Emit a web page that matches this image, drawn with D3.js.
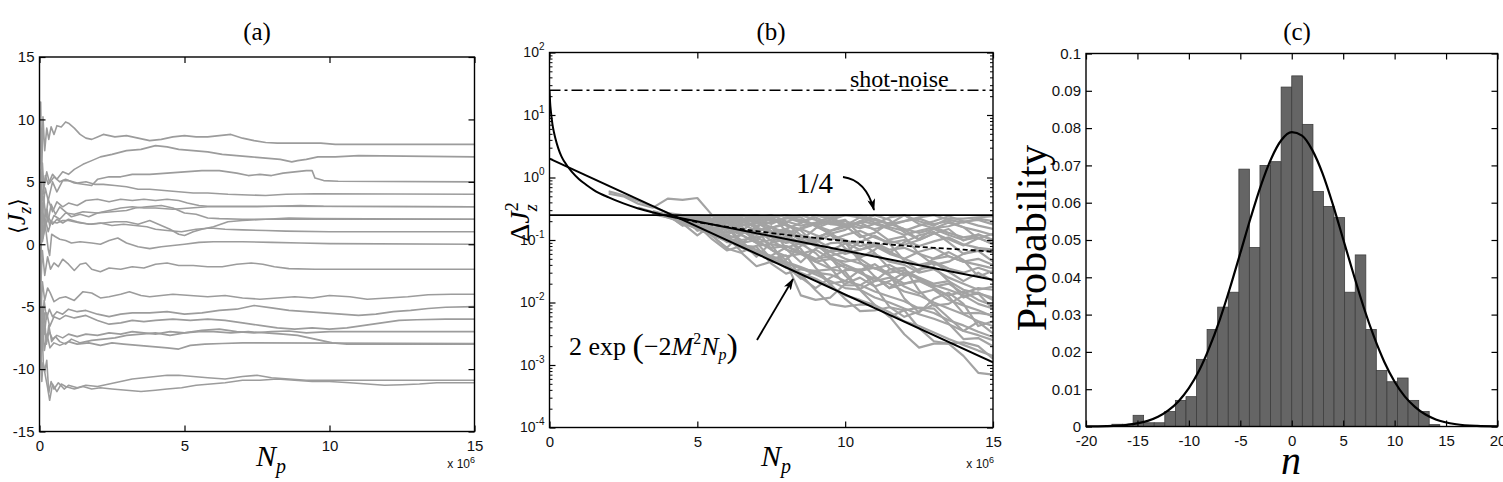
<!DOCTYPE html>
<html>
<head>
<meta charset="utf-8">
<title>Figure</title>
<script src="https://d3js.org/d3.v7.min.js"></script>
<style>
  body { margin: 0; background: #fff; }
  text { font-family: "Liberation Sans", Arial, sans-serif; }
  .serif { font-family: "Liberation Serif", "DejaVu Serif", serif; }
</style>
</head>
<body>
<div id="chart"></div>
<script>
// ---------- panel (a): <Jz> trajectories, Np in units of 1e6 ----------
const aTrajectories = [
  [[0,1],[0.04,11.4],[0.08,6],[0.12,10.2],[0.18,7.5],[0.25,9.3],[0.32,8.4],[0.4,9.4],[0.5,8.8],[0.6,9.5],[0.75,9.4],[0.9,9.8],[1.0,9.7],[1.2,9.3],[1.4,8.8],[1.6,8.5],[1.8,8.4],[2.0,8.6],[2.2,8.8],[2.6,8.6],[3.0,8.7],[3.4,8.5],[3.8,8.3],[4.2,8.4],[4.6,8.6],[5.0,8.7],[5.4,8.6],[5.8,8.6],[6.2,8.7],[6.6,8.8],[7.0,8.5],[7.4,8.3],[7.8,8.15],[8.2,8.1],[9.0,8.1],[9.7,8.1],[10.2,8.0],[15,8.0]],
  [[0,2],[0.05,6],[0.1,3.5],[0.2,5.5],[0.3,4.8],[0.45,5.6],[0.6,5.2],[0.8,5.8],[1.0,5.6],[1.2,6.0],[1.5,6.4],[1.8,6.7],[2.1,7.0],[2.5,7.2],[3.0,7.5],[3.5,7.6],[4.0,7.9],[4.4,7.8],[4.8,7.6],[5.3,7.5],[5.8,7.4],[6.3,7.2],[6.8,7.1],[7.3,7.0],[7.8,6.9],[8.3,6.8],[8.7,6.6],[8.9,6.7],[9.2,6.8],[9.6,7.0],[10.2,7.0],[11,7.1],[15,7.0]],
  [[0,-1],[0.05,3],[0.1,6.5],[0.15,4.5],[0.25,5.8],[0.35,4.9],[0.5,5.4],[0.7,5.0],[0.9,5.2],[1.2,4.9],[1.5,4.8],[1.8,4.7],[2.0,5.2],[2.4,5.4],[2.8,5.4],[3.2,5.6],[3.8,5.6],[4.4,5.7],[5.0,5.8],[5.6,5.9],[6.2,5.9],[6.8,5.7],[7.2,5.5],[7.6,5.6],[8.0,5.5],[8.4,5.7],[8.8,5.8],[9.2,5.9],[9.4,5.9],[9.5,5.3],[9.8,5.1],[10.3,5.05],[15,5.0]],
  [[0,0.5],[0.05,5.5],[0.1,2.5],[0.2,4.5],[0.3,3.5],[0.45,5.0],[0.6,4.2],[0.8,5.1],[1.0,5.1],[1.3,4.9],[1.6,5.0],[1.9,4.8],[2.2,4.8],[2.6,4.7],[3.0,4.6],[3.4,4.4],[3.8,4.4],[4.3,4.3],[4.8,4.2],[5.3,4.1],[5.8,4.1],[6.5,4.0],[7.2,3.95],[7.8,3.9],[8.5,4.0],[9.5,4.05],[15,4.0]],
  [[0,0],[0.04,4],[0.08,1.5],[0.14,3.8],[0.22,2.2],[0.3,3.6],[0.45,2.6],[0.6,3.4],[0.8,3.0],[1.0,3.3],[1.3,3.1],[1.6,3.5],[2.0,3.6],[2.4,3.4],[2.8,3.6],[3.2,3.5],[3.6,3.6],[4.0,3.5],[4.4,3.6],[4.8,3.5],[5.1,3.3],[5.5,3.1],[5.8,3.05],[6.5,3.05],[15,3.0]],
  [[0,-0.5],[0.05,2],[0.12,0.5],[0.2,2.8],[0.3,1.8],[0.4,3.2],[0.55,2.4],[0.7,3.0],[0.9,2.6],[1.1,2.2],[1.4,2.4],[1.7,2.2],[2.0,2.5],[2.4,2.7],[2.8,2.9],[3.2,3.0],[3.6,2.9],[4.0,2.9],[4.6,2.8],[5.2,2.9],[5.8,3.0],[6.4,3.0],[7.5,3.0],[9,3.1],[9.8,3.05],[15,3.0]],
  [[0,1],[0.05,-1],[0.1,3],[0.18,1.2],[0.26,2.8],[0.35,1.5],[0.5,2.3],[0.7,2.0],[0.9,2.5],[1.2,2.4],[1.5,2.6],[2.0,2.5],[2.5,2.6],[3.0,2.7],[3.3,2.9],[3.7,3.0],[4.2,3.1],[4.6,2.9],[5.0,2.5],[5.4,2.4],[5.8,2.1],[6.2,2.05],[7,2.0],[15,2.0]],
  [[0,0],[0.04,-2],[0.08,2.5],[0.14,0.8],[0.2,2.0],[0.3,1.0],[0.4,1.8],[0.6,1.7],[0.8,1.9],[1.0,1.9],[1.4,1.7],[1.8,1.6],[2.2,1.7],[2.6,1.8],[3.0,1.8],[3.4,1.6],[3.8,1.9],[4.2,1.5],[4.5,1.2],[4.8,0.8],[5.0,0.7],[5.3,1.0],[5.6,1.2],[6.0,1.4],[6.5,1.8],[7.0,1.9],[7.8,2.0],[8.6,2.1],[9.5,2.05],[15,2.0]],
  [[0,2],[0.05,0.5],[0.1,2.5],[0.2,1.4],[0.3,2.2],[0.45,1.6],[0.6,2.0],[0.8,1.7],[1.0,2.0],[1.3,1.8],[1.7,1.6],[2.1,1.7],[2.5,1.5],[2.9,1.6],[3.3,1.5],[3.7,1.4],[4.0,1.2],[4.4,1.1],[4.9,1.0],[5.4,1.2],[5.9,1.3],[6.4,1.2],[7.0,1.15],[7.8,1.1],[8.5,1.05],[10,1.0],[15,1.0]],
  [[0,-1],[0.05,2],[0.1,0.2],[0.2,1.5],[0.3,-0.4],[0.35,-0.9],[0.42,0.8],[0.55,0.6],[0.7,0.4],[0.9,0.3],[1.1,0.1],[1.4,0.2],[1.8,0.1],[2.1,0.0],[2.4,0.3],[2.7,0.5],[3.0,0.1],[3.4,-0.2],[3.8,-0.35],[4.2,-0.2],[4.6,-0.1],[5.0,0.0],[5.5,0.15],[6.0,0.2],[7.0,0.2],[8.0,0.15],[9,0.1],[10,0.05],[15,0.0]],
  [[0,1],[0.05,-3],[0.1,-0.5],[0.18,-2.5],[0.28,-1.0],[0.38,-2.0],[0.5,-1.5],[0.65,-1.8],[0.8,-1.2],[1.0,-1.6],[1.2,-2.1],[1.4,-1.6],[1.6,-1.5],[1.8,-2.0],[2.1,-2.2],[2.4,-1.9],[2.8,-2.0],[3.2,-1.8],[3.6,-1.9],[4.0,-1.6],[4.4,-1.5],[4.8,-1.7],[5.3,-1.7],[5.8,-1.8],[6.3,-1.8],[6.8,-1.6],[7.3,-1.5],[7.7,-1.6],[8.1,-1.8],[8.6,-1.95],[9.5,-2.0],[15,-2.0]],
  [[0,-2],[0.05,-5.5],[0.1,-3],[0.18,-4.5],[0.28,-3.5],[0.37,-3.9],[0.5,-4.6],[0.7,-4.3],[0.9,-4.2],[1.2,-4.5],[1.5,-3.8],[1.8,-3.9],[2.1,-4.3],[2.4,-4.2],[2.8,-4.0],[3.1,-3.8],[3.5,-4.1],[3.8,-4.2],[4.2,-4.1],[4.6,-4.0],[5.2,-4.1],[5.8,-4.2],[6.4,-4.1],[7.0,-4.3],[7.6,-4.4],[8.2,-4.3],[8.8,-4.2],[9.4,-4.3],[10,-4.1],[10.7,-4.2],[11.3,-4.4],[12,-4.3],[12.7,-4.2],[13.4,-4.05],[14.2,-4.0],[15,-4.0]],
  [[0,1.5],[0.05,-4],[0.1,-6.5],[0.16,-4.5],[0.24,-6],[0.34,-5.2],[0.45,-5.8],[0.6,-5.4],[0.8,-5.6],[1.0,-5.2],[1.3,-5.4],[1.6,-5.3],[2.0,-5.6],[2.4,-5.8],[2.8,-5.6],[3.2,-5.5],[3.8,-5.5],[4.4,-5.4],[5.0,-5.6],[5.6,-5.5],[6.2,-5.3],[6.8,-5.2],[7.4,-4.9],[8.0,-5.1],[8.6,-5.3],[9.2,-5.4],[9.8,-5.5],[10.4,-5.6],[11,-5.7],[11.6,-5.6],[12.2,-5.4],[12.8,-5.3],[13.4,-5.15],[14,-5.05],[15,-5.0]],
  [[0,-1],[0.05,-8],[0.1,-5],[0.17,-7.2],[0.25,-5.5],[0.35,-6.6],[0.5,-5.8],[0.7,-6.0],[0.9,-5.7],[1.2,-5.9],[1.6,-5.7],[2.0,-6.1],[2.4,-6.4],[2.8,-6.3],[3.2,-6.1],[3.6,-6.2],[4.0,-6.1],[4.6,-6.0],[5.2,-6.1],[5.8,-6.0],[6.4,-6.1],[7.0,-6.3],[7.6,-6.5],[8.2,-6.7],[8.8,-6.8],[9.4,-6.7],[10.0,-6.8],[10.6,-6.7],[11.2,-6.5],[11.8,-6.3],[12.4,-6.1],[13,-6.05],[14,-6.0],[15,-6.0]],
  [[0,-3],[0.05,-6],[0.1,-8.5],[0.16,-6.5],[0.24,-7.8],[0.33,-7.0],[0.45,-7.6],[0.6,-7.3],[0.8,-7.5],[1.0,-7.2],[1.3,-7.4],[1.6,-7.2],[2.0,-7.3],[2.4,-7.1],[2.8,-7.2],[3.2,-7.0],[3.6,-7.1],[4.0,-7.2],[4.5,-7.0],[5.0,-7.1],[5.6,-6.9],[6.2,-6.8],[6.8,-7.0],[7.4,-7.1],[8.0,-7.0],[8.6,-6.95],[9.2,-7.1],[10,-7.0],[11,-7.0],[15,-7.0]],
  [[0,0.5],[0.05,-4],[0.1,-7],[0.16,-5.5],[0.24,-8],[0.32,-6.5],[0.42,-7.8],[0.55,-7.4],[0.7,-7.8],[0.9,-8.0],[1.1,-7.6],[1.4,-7.9],[1.8,-7.7],[2.2,-7.6],[2.6,-7.5],[3.0,-7.3],[3.5,-7.2],[4.0,-7.1],[4.5,-7.3],[5.0,-7.1],[5.5,-7.0],[6.0,-7.0],[6.6,-7.1],[7.2,-7.0],[7.8,-7.1],[8.4,-7.2],[8.9,-7.3],[9.3,-7.5],[9.7,-7.7],[10.1,-7.9],[10.6,-8.0],[15,-8.0]],
  [[0,-2],[0.05,-9],[0.1,-6],[0.17,-8.5],[0.26,-7.2],[0.36,-8.3],[0.5,-7.9],[0.7,-8.1],[1.0,-7.8],[1.3,-8.0],[1.7,-7.9],[2.1,-8.1],[2.5,-7.9],[2.9,-8.0],[3.4,-8.1],[3.9,-8.2],[4.4,-8.3],[4.8,-8.4],[5.2,-8.1],[5.7,-8.0],[6.3,-7.95],[7,-7.9],[15,-7.95]],
  [[0,-1],[0.04,-10],[0.08,-6],[0.13,-9.5],[0.2,-10.5],[0.28,-11.5],[0.35,-12.5],[0.45,-11.2],[0.6,-11.8],[0.75,-11.2],[0.9,-11.4],[1.2,-11.6],[1.5,-11.4],[1.8,-11.6],[2.1,-11.5],[2.5,-11.6],[3.0,-11.7],[3.5,-11.8],[4.0,-11.7],[4.4,-11.6],[4.9,-11.5],[5.4,-11.3],[5.9,-11.2],[6.4,-11.1],[7.0,-10.9],[7.6,-10.9],[8.2,-10.8],[8.8,-10.9],[9.4,-11.0],[10,-11.0],[10.7,-11.1],[11.3,-11.2],[11.9,-11.3],[12.5,-11.25],[13.1,-11.2],[13.7,-11.1],[14.3,-11.1],[15,-11.1]],
  [[0,0],[0.04,-8],[0.08,-11],[0.12,-9.5],[0.18,-10.2],[0.25,-9.3],[0.32,-11.9],[0.4,-11.0],[0.5,-11.6],[0.65,-11.1],[0.85,-11.6],[1.0,-11.3],[1.3,-11.5],[1.6,-11.3],[2.0,-11.4],[2.4,-11.2],[2.8,-11.0],[3.2,-10.8],[3.6,-10.7],[4.0,-10.6],[4.4,-10.5],[4.8,-10.5],[5.3,-10.6],[5.8,-10.7],[6.4,-10.8],[7.0,-10.6],[7.5,-10.5],[8.0,-10.7],[8.6,-10.8],[9.2,-10.9],[10,-10.9],[15,-10.9]]
];
const aXTicks = [0, 5, 10, 15];
const aYTicks = [-15, -10, -5, 0, 5, 10, 15];

// ---------- panel (b): variance runs on a shared Np grid (1e6) ----------
const bGrid = [2,2.5,3,3.5,4,4.5,5,5.5,6,6.5,7,7.5,8,8.5,9,9.5,10,10.5,11,11.5,12,12.5,13,13.5,14,14.5,15];
const bRuns = [
  [0.6,0.52,0.42,0.34,0.27,0.25,0.22,0.24,0.25,0.21,0.23,0.25,0.2,0.17,0.19,0.23,0.25,0.25,0.21,0.18,0.2,0.23,0.25,0.21,0.19,0.22,0.2],
  [0.55,0.5,0.38,0.33,0.46,0.44,0.47,0.25,0.22,0.2,0.17,0.19,0.23,0.21,0.17,0.14,0.16,0.2,0.18,0.15,0.12,0.14,0.16,0.13,0.11,0.12,0.1],
  [null,null,null,0.27,0.25,0.21,0.23,0.19,0.23,0.20,0.22,0.18,0.23,0.19,0.23,0.18,0.17,0.23,0.21,0.18,0.25,0.20,0.17,0.22,0.22,0.23,0.24],
  [null,null,null,0.28,0.25,0.225,0.25,0.21,0.19,0.24,0.25,0.21,0.19,0.25,0.25,0.23,0.18,0.155,0.18,0.23,0.25,0.18,0.154,0.166,0.197,0.21,0.178],
  [null,null,0.33,0.28,0.25,0.25,0.25,0.24,0.19,0.20,0.158,0.23,0.25,0.23,0.166,0.126,0.145,0.20,0.25,0.21,0.132,0.104,0.153,0.19,0.16,0.106,0.126],
  [null,null,null,0.27,0.25,0.22,0.186,0.25,0.25,0.25,0.21,0.157,0.185,0.12,0.103,0.14,0.176,0.19,0.144,0.097,0.084,0.10,0.128,0.103,0.082,0.107,0.089],
  [null,null,null,0.26,0.25,0.25,0.19,0.25,0.21,0.139,0.21,0.25,0.139,0.099,0.154,0.19,0.21,0.122,0.083,0.062,0.092,0.119,0.135,0.092,0.06,0.074,0.063],
  [null,null,null,0.29,0.25,0.19,0.245,0.158,0.116,0.186,0.226,0.126,0.097,0.156,0.18,0.122,0.074,0.052,0.07,0.102,0.114,0.06,0.04,0.045,0.06,0.067,0.045],
  [null,null,null,0.27,0.25,0.25,0.25,0.198,0.137,0.143,0.099,0.156,0.179,0.142,0.085,0.056,0.064,0.093,0.117,0.088,0.046,0.032,0.051,0.064,0.048,0.026,0.032],
  [null,null,null,0.26,0.25,0.205,0.153,0.217,0.223,0.23,0.149,0.097,0.114,0.062,0.048,0.068,0.088,0.095,0.062,0.035,0.027,0.034,0.044,0.031,0.022,0.03,0.022],
  [null,null,null,0.27,0.23,0.2,0.16,0.13,0.1,0.085,0.07,0.055,0.045,0.013,0.011,0.012,0.02,0.025,0.018,0.022,0.03,0.024,0.018,0.02,0.014,0.017,0.016],
  [null,null,null,0.28,0.25,0.25,0.159,0.25,0.16,0.088,0.136,0.166,0.072,0.044,0.073,0.089,0.092,0.045,0.026,0.017,0.026,0.034,0.037,0.022,0.012,0.0145,0.011],
  [null,null,null,0.27,0.25,0.17,0.218,0.117,0.075,0.128,0.155,0.07,0.048,0.081,0.093,0.053,0.027,0.0164,0.022,0.034,0.036,0.0155,0.0089,0.0095,0.0129,0.0139,0.0079],
  [null,null,null,0.26,0.25,0.25,0.25,0.156,0.092,0.092,0.054,0.091,0.102,0.072,0.036,0.02,0.022,0.033,0.041,0.028,0.0116,0.0069,0.0115,0.0144,0.0095,0.0042,0.005],
  [null,null,null,0.27,0.25,0.184,0.119,0.174,0.17,0.165,0.091,0.05,0.057,0.025,0.017,0.025,0.033,0.034,0.018,0.0085,0.0059,0.0072,0.0093,0.0057,0.0035,0.0049,0.0032],
  [null,null,null,0.28,0.25,0.25,0.141,0.188,0.114,0.064,0.081,0.086,0.039,0.024,0.032,0.034,0.031,0.0158,0.0092,0.0059,0.0075,0.0083,0.008,0.0046,0.0026,0.0027,0.002],
  [null,null,null,0.27,0.25,0.172,0.172,0.103,0.068,0.081,0.078,0.042,0.029,0.034,0.032,0.0197,0.0114,0.0073,0.0075,0.0084,0.0075,0.0039,0.0024,0.0022,0.0023,0.002,0.00126],
  [null,null,null,0.26,0.25,0.213,0.187,0.117,0.073,0.062,0.038,0.045,0.041,0.028,0.0157,0.0094,0.0086,0.0093,0.0091,0.006,0.0031,0.0019,0.0022,0.0022,0.0014,0.00075,0.0007],
  [null,null,null,0.27,0.25,0.25,0.143,0.152,0.162,0.095,0.058,0.056,0.076,0.088,0.062,0.036,0.019,0.0188,0.026,0.017,0.02,0.023,0.017,0.0125,0.0067,0.0068,0.0063],
  [null,null,null,0.28,0.25,0.25,0.2,0.25,0.25,0.25,0.195,0.133,0.151,0.185,0.25,0.216,0.169,0.111,0.13,0.189,0.148,0.1,0.127,0.15,0.098,0.124,0.1],
  [null,null,null,0.27,0.25,0.23,0.2,0.17,0.19,0.15,0.12,0.14,0.1,0.085,0.11,0.13,0.09,0.07,0.08,0.06,0.05,0.065,0.075,0.055,0.045,0.05,0.04],
  [null,null,null,0.26,0.24,0.2,0.17,0.13,0.11,0.09,0.1,0.07,0.055,0.06,0.045,0.035,0.04,0.03,0.022,0.025,0.018,0.014,0.016,0.011,0.009,0.0075,0.006],
  [null,null,null,0.28,0.25,0.24,0.21,0.18,0.2,0.24,0.25,0.22,0.17,0.15,0.18,0.21,0.25,0.23,0.19,0.16,0.14,0.17,0.2,0.24,0.2,0.17,0.15],
  [null,null,null,0.27,0.25,0.21,0.18,0.15,0.12,0.1,0.11,0.085,0.08,0.06,0.07,0.05,0.045,0.05,0.035,0.03,0.033,0.025,0.02,0.022,0.016,0.014,0.012],
  [null,null,null,0.26,0.23,0.19,0.15,0.12,0.095,0.08,0.06,0.05,0.042,0.035,0.028,0.022,0.017,0.016,0.012,0.01,0.008,0.0065,0.0055,0.0045,0.0035,0.003,0.0025],
  [null,null,null,0.28,0.25,0.25,0.22,0.25,0.2,0.17,0.19,0.16,0.13,0.15,0.12,0.1,0.12,0.14,0.11,0.09,0.1,0.08,0.095,0.11,0.085,0.075,0.07],
  [null,null,null,0.26,0.24,0.2,0.16,0.125,0.1,0.075,0.06,0.05,0.036,0.03,0.024,0.018,0.013,0.011,0.009,0.007,0.005,0.0042,0.0033,0.0026,0.0021,0.0017,0.0014],
  [null,null,null,0.27,0.25,0.25,0.23,0.2,0.22,0.18,0.14,0.16,0.12,0.09,0.1,0.075,0.06,0.07,0.085,0.065,0.05,0.04,0.045,0.035,0.03,0.036,0.03],
  [null,null,null,0.27,0.25,0.22,0.24,0.2,0.17,0.2,0.16,0.13,0.15,0.11,0.095,0.12,0.1,0.08,0.09,0.07,0.075,0.06,0.05,0.055,0.045,0.04,0.035],
  [null,null,null,0.26,0.24,0.21,0.17,0.14,0.15,0.12,0.09,0.075,0.08,0.065,0.05,0.055,0.04,0.032,0.036,0.027,0.02,0.022,0.017,0.013,0.015,0.011,0.009],
  [null,null,null,0.28,0.25,0.25,0.23,0.25,0.21,0.25,0.23,0.2,0.22,0.25,0.21,0.18,0.2,0.17,0.15,0.17,0.2,0.22,0.18,0.2,0.16,0.14,0.12],
  [null,null,null,0.27,0.24,0.2,0.16,0.14,0.11,0.12,0.09,0.1,0.07,0.06,0.045,0.05,0.036,0.03,0.024,0.02,0.015,0.013,0.01,0.008,0.0065,0.005,0.0042],
  [null,null,null,0.26,0.25,0.23,0.19,0.16,0.13,0.14,0.11,0.12,0.14,0.1,0.08,0.065,0.07,0.055,0.06,0.045,0.04,0.03,0.034,0.025,0.02,0.016,0.018],
  [null,null,null,0.27,0.25,0.25,0.21,0.18,0.15,0.13,0.14,0.11,0.09,0.1,0.085,0.065,0.05,0.042,0.035,0.04,0.03,0.024,0.019,0.016,0.013,0.0095,0.008],
  [null,null,null,0.28,0.25,0.24,0.25,0.21,0.25,0.22,0.19,0.23,0.25,0.2,0.17,0.2,0.16,0.19,0.22,0.18,0.15,0.13,0.15,0.12,0.1,0.11,0.085],
  [null,null,null,0.26,0.24,0.19,0.15,0.12,0.1,0.08,0.065,0.055,0.045,0.037,0.03,0.028,0.022,0.019,0.015,0.0125,0.0105,0.008,0.0068,0.0052,0.0043,0.0034,0.0028]
];
const bShotNoise = 25;
const bQuarter = 0.25;
const bDecaySolid = [[0,25],[0.02,16],[0.05,11.1],[0.1,7.1],[0.15,5.3],[0.2,4.2],[0.3,2.9],[0.4,2.2],[0.5,1.8],[0.75,1.24],[1,0.94],[1.25,0.76],[1.5,0.63],[2,0.48],[2.5,0.385],[3,0.32],[3.5,0.276],[4,0.243],[4.3,0.226]];
const bDecayDashed = [[4.3,0.226],[5,0.194],[6,0.162],[7,0.139],[8,0.121],[9,0.108],[10,0.097],[11,0.089],[12,0.081],[13,0.075],[14,0.07],[15,0.065]];
const bExpBound = [[0,2],[15,0.0011]];
const bMidLine = [[4.2,0.235],[15,0.023]];
const bXTicks = [0, 5, 10, 15];
const bYTicks = [1e-4, 1e-3, 1e-2, 1e-1, 1, 10, 100];

// ---------- panel (c): histogram of n ----------
const cBinEdges = [-17.48,-16.45,-15.42,-14.40,-13.37,-12.34,-11.31,-10.28,-9.26,-8.23,-7.20,-6.17,-5.14,-4.12,-3.09,-2.06,-1.03,0.00,1.03,2.06,3.08,4.11,5.14,6.17,7.20,8.22,9.25,10.28,11.31,12.34,13.36,14.39];
const cProb = [0.0006,0.0006,0.003,0.001,0.001,0.004,0.007,0.008,0.018,0.026,0.032,0.036,0.069,0.048,0.070,0.071,0.091,0.094,0.081,0.063,0.059,0.056,0.036,0.046,0.026,0.015,0.012,0.013,0.007,0.004,0.0005];
const cFitN = [-20,-18,-16,-14,-13,-12,-11,-10,-9,-8,-7,-6,-5,-4,-3,-2,-1,0,1,2,3,4,5,6,7,8,9,10,11,12,13,14,16,18,20];
const cFitP = [0.00003,0.00012,0.00046,0.0015,0.0026,0.0043,0.0068,0.0103,0.015,0.0212,0.0286,0.0372,0.0465,0.0559,0.0646,0.0718,0.0768,0.0789,0.078,0.0741,0.0678,0.0595,0.0502,0.0409,0.0319,0.024,0.0173,0.012,0.008,0.0052,0.0032,0.0019,0.0006,0.00016,0.00004];
const cXTicks = [-20,-15,-10,-5,0,5,10,15,20];
const cYTicks = [0,0.01,0.02,0.03,0.04,0.05,0.06,0.07,0.08,0.09,0.1];

const svg = d3.select("#chart").append("svg")
  .attr("width", 1503)
  .attr("height", 482)
  .style("background", "#fff");

const defs = svg.append("defs");
defs.append("marker")
  .attr("id", "arrow")
  .attr("viewBox", "0 0 12 8")
  .attr("refX", 11).attr("refY", 4)
  .attr("markerWidth", 12).attr("markerHeight", 8)
  .attr("markerUnits", "userSpaceOnUse")
  .attr("orient", "auto")
  .append("path").attr("d", "M0,0 L12,4 L0,8 L3,4 z").attr("fill", "#000");

function clip(id, x0, x1, y0, y1) {
  defs.append("clipPath").attr("id", id)
    .append("rect").attr("x", x0).attr("y", y0).attr("width", x1 - x0).attr("height", y1 - y0);
}

// axes drawn MATLAB-style: inward ticks on all four sides, box frame
function frame(x, y, xTicks, yTicks, xFmt, yFmt) {
  const [x0, x1] = x.range();
  const [y1, y0] = y.range();
  const g = svg.append("g");
  g.append("g").attr("transform", `translate(0,${y1})`)
    .call(d3.axisBottom(x).tickValues(xTicks).tickSizeInner(-6).tickSizeOuter(0).tickPadding(9).tickFormat(xFmt));
  g.append("g").attr("transform", `translate(0,${y0})`)
    .call(d3.axisTop(x).tickValues(xTicks).tickSizeInner(-6).tickSizeOuter(0).tickFormat(""));
  const left = g.append("g").attr("transform", `translate(${x0},0)`)
    .call(d3.axisLeft(y).tickValues(yTicks).tickSizeInner(-6).tickSizeOuter(0).tickPadding(5).tickFormat(yFmt));
  g.append("g").attr("transform", `translate(${x1},0)`)
    .call(d3.axisRight(y).tickValues(yTicks).tickSizeInner(-6).tickSizeOuter(0).tickFormat(""));
  g.selectAll(".domain").remove();
  g.selectAll(".tick line").attr("stroke", "#000").attr("stroke-width", 1.2);
  g.selectAll(".tick text").attr("font-size", 15).attr("fill", "#111")
    .attr("font-family", "Liberation Sans, Arial, sans-serif");
  g.append("rect").attr("x", x0).attr("y", y0).attr("width", x1 - x0).attr("height", y1 - y0)
    .attr("fill", "none").attr("stroke", "#000").attr("stroke-width", 1.4);
  return left;
}

function npLabel(cx, by) {
  const t = svg.append("text").attr("class", "serif").attr("x", cx).attr("y", by)
    .attr("text-anchor", "middle").attr("font-size", 30).attr("font-style", "italic");
  t.append("tspan").text("N");
  t.append("tspan").attr("font-size", 20).attr("dy", 7).text("p");
}
function sciLabel(x, by) {
  const t = svg.append("text").attr("x", x).attr("y", by).attr("text-anchor", "end")
    .attr("font-size", 12).attr("fill", "#111");
  t.append("tspan").text("x 10");
  t.append("tspan").attr("font-size", 9).attr("dy", -5).text("6");
}
function title(cx, label) {
  svg.append("text").attr("class", "serif").attr("x", cx).attr("y", 40)
    .attr("text-anchor", "middle").attr("font-size", 25).text(label);
}

// ================= panel (a) =================
const xa = d3.scaleLinear().domain([0, 15]).range([39.5, 474.5]);
const ya = d3.scaleLinear().domain([-15, 15]).range([431.5, 57]);
clip("clipA", 39.5, 474.5, 57, 431.5);

svg.append("g").attr("clip-path", "url(#clipA)")
  .selectAll("path").data(aTrajectories).join("path")
  .attr("d", d3.line().x(d => xa(d[0])).y(d => ya(d[1])))
  .attr("fill", "none").attr("stroke", "#9c9c9c").attr("stroke-width", 1.6)
  .attr("stroke-linejoin", "round");

frame(xa, ya, aXTicks, aYTicks, d => String(d), d => String(d));
title(257, "(a)");
npLabel(271, 466);
sciLabel(475, 468);
{
  const t = svg.append("text").attr("class", "serif")
    .attr("transform", "translate(25,216) rotate(-90)")
    .attr("text-anchor", "middle").attr("font-size", 26);
  t.append("tspan").attr("font-family", "DejaVu Serif").attr("font-size", 22).text("\u27E8");
  t.append("tspan").attr("font-style", "italic").text("J");
  t.append("tspan").attr("font-style", "italic").attr("font-size", 18).attr("dy", 6).text("z");
  t.append("tspan").attr("font-family", "DejaVu Serif").attr("font-size", 22).attr("dy", -6).text("\u27E9");
}

// ================= panel (b) =================
const xb = d3.scaleLinear().domain([0, 15]).range([549.5, 993]);
const yb = d3.scaleLog().domain([1e-4, 100]).range([427.5, 52.5]);
clip("clipB", 549.5, 993, 52.5, 427.5);
const gb = svg.append("g").attr("clip-path", "url(#clipB)");

const runLine = d3.line()
  .defined(d => d != null)
  .x((d, i) => xb(bGrid[i]))
  .y(d => yb(d));
gb.selectAll("path.run").data(bRuns).join("path").attr("class", "run")
  .attr("d", runLine)
  .attr("fill", "none").attr("stroke", "#a3a3a3").attr("stroke-width", 2.2)
  .attr("stroke-linejoin", "round");

gb.append("line").attr("x1", xb(0)).attr("x2", xb(15))
  .attr("y1", yb(bShotNoise)).attr("y2", yb(bShotNoise))
  .attr("stroke", "#000").attr("stroke-width", 1.5).attr("stroke-dasharray", "11,4,3,4");
gb.append("line").attr("x1", xb(0)).attr("x2", xb(15))
  .attr("y1", yb(bQuarter)).attr("y2", yb(bQuarter))
  .attr("stroke", "#000").attr("stroke-width", 1.6);

const curveLine = d3.line().x(d => xb(d[0])).y(d => yb(d[1])).curve(d3.curveMonotoneX);
const straightLine = d3.line().x(d => xb(d[0])).y(d => yb(d[1]));
gb.append("path").attr("d", curveLine(bDecaySolid))
  .attr("fill", "none").attr("stroke", "#000").attr("stroke-width", 2);
gb.append("path").attr("d", curveLine(bDecayDashed))
  .attr("fill", "none").attr("stroke", "#000").attr("stroke-width", 1.8).attr("stroke-dasharray", "5,3");
gb.append("path").attr("d", straightLine(bExpBound))
  .attr("fill", "none").attr("stroke", "#000").attr("stroke-width", 2);
gb.append("path").attr("d", straightLine(bMidLine))
  .attr("fill", "none").attr("stroke", "#000").attr("stroke-width", 2);

const leftB = frame(xb, yb, bXTicks, bYTicks, d => String(d), () => "");
// superscript powers of ten on the log axis
leftB.selectAll(".tick text").each(function (d) {
  const t = d3.select(this).attr("font-size", 14);
  t.append("tspan").text("10");
  t.append("tspan").attr("font-size", 10).attr("dy", -7).text(String(Math.round(Math.log10(d))));
});
// minor log ticks on both sides
const bMinor = yb.ticks().filter(v => !bYTicks.some(m => Math.abs(m - v) / m < 1e-6));
const minor = svg.append("g");
minor.append("g").attr("transform", `translate(${xb(0)},0)`)
  .call(d3.axisRight(yb).tickValues(bMinor).tickSize(3).tickFormat(""));
minor.append("g").attr("transform", `translate(${xb(15)},0)`)
  .call(d3.axisLeft(yb).tickValues(bMinor).tickSize(3).tickFormat(""));
minor.selectAll(".domain").remove();
minor.selectAll(".tick line").attr("stroke", "#000");

title(771, "(b)");
npLabel(776, 466);
sciLabel(994, 468);
{
  const t = svg.append("text").attr("class", "serif")
    .attr("transform", "translate(529,222) rotate(-90)")
    .attr("text-anchor", "middle").attr("font-size", 28);
  t.append("tspan").text("\u0394");
  t.append("tspan").attr("font-style", "italic").text("J");
  t.append("tspan").attr("font-size", 18).attr("dy", -11).text("2");
  t.append("tspan").attr("font-size", 18).attr("font-style", "italic").attr("dx", -9).attr("dy", 19).text("z");
}
svg.append("text").attr("class", "serif").attr("x", 850).attr("y", 87)
  .attr("font-size", 24).text("shot-noise");
svg.append("text").attr("class", "serif").attr("x", 796).attr("y", 193)
  .attr("font-size", 29).text("1/4");
svg.append("path").attr("d", "M843,177 Q866,180 874,210")
  .attr("fill", "none").attr("stroke", "#000").attr("stroke-width", 1.8)
  .attr("marker-end", "url(#arrow)");
{
  const t = svg.append("text").attr("class", "serif").attr("x", 569).attr("y", 355)
    .attr("font-size", 26);
  t.append("tspan").text("2 exp ");
  t.append("tspan").attr("font-size", 34).attr("dy", 2).text("(");
  t.append("tspan").attr("dy", -2).text("\u22122");
  t.append("tspan").attr("font-style", "italic").text("M");
  t.append("tspan").attr("font-size", 16).attr("dy", -11).text("2");
  t.append("tspan").attr("font-style", "italic").attr("dy", 11).text("N");
  t.append("tspan").attr("font-style", "italic").attr("font-size", 16).attr("dy", 5).text("p");
  t.append("tspan").attr("font-size", 34).attr("dy", -3).text(")");
}
svg.append("line").attr("x1", 757).attr("y1", 340).attr("x2", 793).attr("y2", 279)
  .attr("stroke", "#000").attr("stroke-width", 1.8).attr("marker-end", "url(#arrow)");

// ================= panel (c) =================
const xc = d3.scaleLinear().domain([-20, 20]).range([1086, 1497.5]);
const yc = d3.scaleLinear().domain([0, 0.1]).range([426.5, 53.5]);

svg.append("g").selectAll("rect").data(cProb).join("rect")
  .attr("x", (d, i) => xc(cBinEdges[i]))
  .attr("width", (d, i) => xc(cBinEdges[i + 1]) - xc(cBinEdges[i]))
  .attr("y", d => yc(d))
  .attr("height", d => yc(0) - yc(d))
  .attr("fill", "#656565").attr("stroke", "#3e3e3e").attr("stroke-width", 0.8);

svg.append("path")
  .datum(cFitN.map((n, i) => [n, cFitP[i]]))
  .attr("d", d3.line().x(d => xc(d[0])).y(d => yc(d[1])).curve(d3.curveMonotoneX))
  .attr("fill", "none").attr("stroke", "#000").attr("stroke-width", 2.2);

frame(xc, yc, cXTicks, cYTicks, d => String(d), d => d3.format("~g")(d));
title(1297, "(c)");
svg.append("text").attr("class", "serif")
  .attr("transform", "translate(1046,238) rotate(-90)")
  .attr("text-anchor", "middle").attr("font-size", 42).text("Probability");
svg.append("text").attr("class", "serif").attr("x", 1291).attr("y", 474)
  .attr("text-anchor", "middle").attr("font-size", 40).attr("font-style", "italic").text("n");
</script>
</body>
</html>
